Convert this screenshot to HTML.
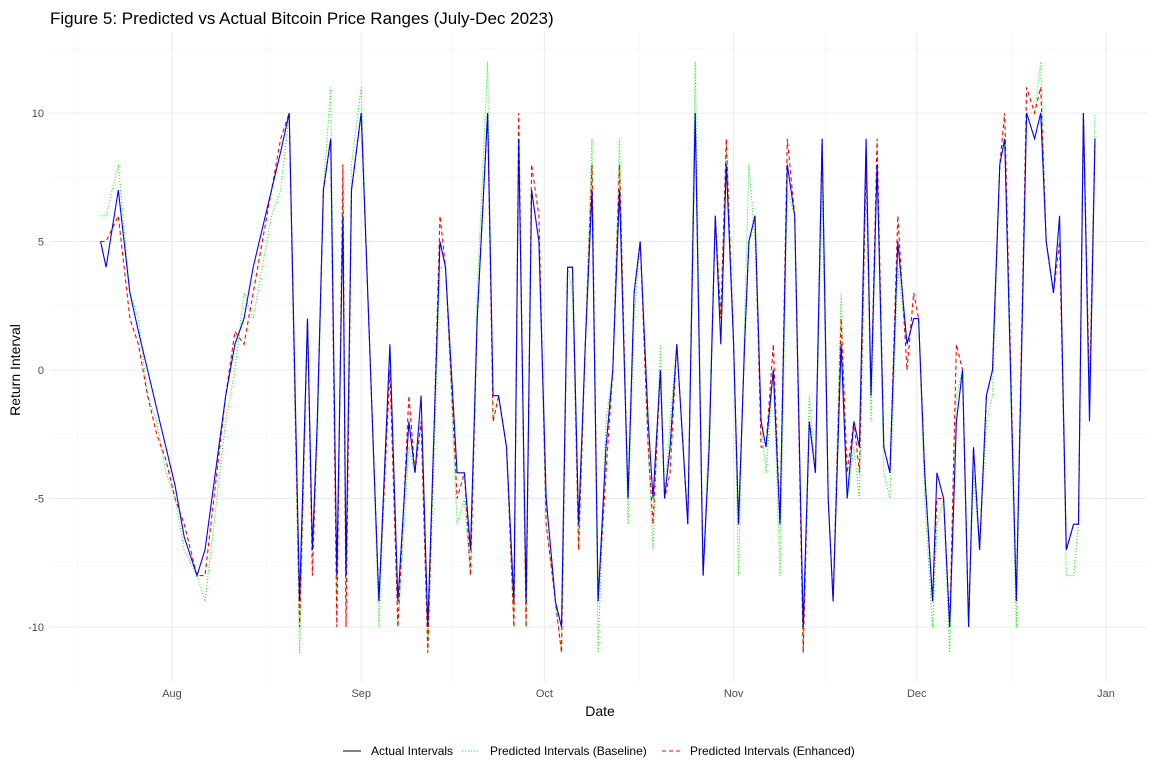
<!DOCTYPE html>
<html><head><meta charset="utf-8"><style>
body{margin:0;background:#fff;font-family:"Liberation Sans",sans-serif;}
</style></head><body>
<svg id="chart" width="1157" height="778" xmlns="http://www.w3.org/2000/svg" font-family="Liberation Sans, sans-serif">
<rect width="1157" height="778" fill="#fff"/>
<text x="50" y="24" font-size="17" fill="#000">Figure 5: Predicted vs Actual Bitcoin Price Ranges (July-Dec 2023)</text>
<g id="grid"></g>
<g id="yticks" font-size="11" fill="#4d4d4d" text-anchor="end"></g>
<g id="xticks" font-size="11" fill="#4d4d4d" text-anchor="middle"></g>
<g id="series"></g>
<text transform="translate(20,370) rotate(-90)" font-size="14" text-anchor="middle">Return Interval</text>
<text x="600" y="716" font-size="14" text-anchor="middle">Date</text>
<g font-size="12" fill="#000">
<g><line x1="343" y1="751" x2="361" y2="751" stroke="#000" stroke-width="1"/><text x="371" y="755">Actual Intervals</text></g>
<g><line x1="462" y1="751" x2="480" y2="751" stroke="#00ff00" stroke-width="1" stroke-dasharray="1,2"/><text x="490" y="755">Predicted Intervals (Baseline)</text></g>
<g><line x1="662" y1="751" x2="680" y2="751" stroke="#ff0000" stroke-width="1" stroke-dasharray="4,3"/><text x="690" y="755">Predicted Intervals (Enhanced)</text></g>
</g>
</svg>
<script>
const days=[-11.7,-10.8,-8.8,-6.9,-5.5,-4,-2.5,-1,0.5,2,4.1,5.4,8.8,10.3,11.8,13.3,14.8,16.3,17.8,19.2,20.9,22.2,23,23.8,24.8,26,27,28,28.5,29.4,31,33.9,35.7,37,38.8,39.8,40.8,41.9,43.9,44.8,46.7,47.9,48.9,50,51.7,52.6,53.5,54.8,56,56.8,58,58.9,60.1,61.3,62.8,63.8,64.8,65.6,66.6,67.7,68.8,69.8,71.1,72.2,73.3,74.7,75.7,76.7,78,78.8,80,80.7,81.6,82.7,84.5,85.7,87,88,89,89.9,90.8,92,92.8,93.8,94.5,95.5,96.5,97.3,98.5,99.6,100.8,102,103.4,104.4,105.4,106.5,107.5,108.3,109.6,110.6,111.7,112.6,113.7,114.5,115.5,116.6,117.6,118.9,120.4,121.5,122.3,123.3,124.6,125.3,126.4,127.4,128.5,129.5,130.5,131.3,132.3,133.4,134.4,135.6,136.4,138.3,140,141.3,142.3,143.2,144.4,145.4,146.5,147.7,148.5,149.3,150.3,151.2];
const actual=[5,4,7,3,1.5,0,-1.5,-3,-4.5,-6.5,-8,-7,-1,1,2,4,5.5,7,8.5,10,-9,2,-7,-2,7,9,-8,6,-8,7,10,-9,1,-9,-2,-4,-1,-10,5,4,-4,-4,-7,2,10,-1,-1,-3,-9,9,-9,7,5,-5,-9,-10,4,4,-6,1,7,-9,-3,0,7,-5,3,5,-2,-5,0,-5,-3,1,-6,10,-8,-3,6,1,8,1,-6,1,5,6,-2,-3,0,-6,8,6,-10,-2,-4,9,-5,-9,1,-5,-2,-3,9,-1,8,-3,-4,5,1,2,2,-4,-9,-4,-5,-10,-2,0,-10,-3,-7,-1,0,8,9,-9,10,9,10,5,3,6,-7,-6,-6,10,-2,9];
const baseline=[6,6,8,3,2,-1,-2,-4,-5,-7,-8,-9,-2,0,3,2,4,6,7,10,-11,2,-7,-3,7,11,-9,7,-9,8,11,-10,1,-10,-3,-4,-2,-11,4,4,-6,-5,-8,3,12,-2,-1,-3,-10,9,-10,7,5,-6,-9,-11,4,3,-7,1,9,-11,-2,0,9,-6,2,5,-3,-7,1,-5,-2,1,-6,12,-8,-2,6,2,9,1,-8,2,8,5,-2,-4,0,-8,7,6,-11,-1,-4,7,-5,-9,3,-5,-3,-5,8,-2,8,-4,-5,4,1,2,2,-5,-10,-6,-5,-11,-1,0,-10,-4,-7,-2,-1,8,9,-10,10,10,12,5,3,6,-8,-8,-6,10,-1,10];
const enhanced=[5,5,6,2,1,-1,-2.5,-3.5,-5,-6,-8,-8,-1,1.5,1,3,5,7,9,10,-10,2,-8,-2,7,9,-10,8,-10,7,10,-9,0,-10,-1,-4,-2,-11,6,4,-5,-4,-8,2,10,-2,-1,-3,-10,10,-10,8,6,-6,-9,-11,4,4,-7,1,8,-9,-4,0,8,-5,3,5,-3,-6,0,-5,-4,1,-6,10,-8,-3,6,2,9,1,-6,1,5,6,-3,-3,1,-6,9,6,-11,-2,-4,9,-5,-9,2,-4,-2,-4,8,-1,9,-3,-4,6,0,3,2,-4,-9,-5,-5,-10,1,0,-10,-3,-7,-1,0,8,10,-9,11,10,11,5,3,5,-7,-6,-6,10,-1,9];
const yTicks=[-10,-5,0,5,10];
const xTickLabels=["Aug","Sep","Oct","Nov","Dec","Jan"];
const xTickDays=[0,31,61,92,122,153];
{
const NS="http://www.w3.org/2000/svg";
function xs(d){return 172+d*(1106-172)/153;}
function ys(v){return 370-v*25.7;}
const grid=document.getElementById('grid');
function ln(p,x1,y1,x2,y2,c,w){const l=document.createElementNS(NS,'line');l.setAttribute('x1',x1);l.setAttribute('y1',y1);l.setAttribute('x2',x2);l.setAttribute('y2',y2);l.setAttribute('stroke',c);l.setAttribute('stroke-width',w);p.appendChild(l);return l;}
const pTop=32,pBot=682,pLeft=50,pRight=1147;
[-12.5,-7.5,-2.5,2.5,7.5,12.5].forEach(v=>{const y=ys(v);if(y>pTop&&y<pBot){const l=ln(grid,pLeft,y,pRight,y,'#f2f2f2',0.6);

}});
for(let i=0;i<xTickDays.length;i++){const d=i===0?xTickDays[0]-15.5:(xTickDays[i-1]+xTickDays[i])/2;const l=ln(grid,xs(d),pTop,xs(d),pBot,'#f2f2f2',0.6);

}
yTicks.forEach(v=>{const l=ln(grid,pLeft,ys(v),pRight,ys(v),'#ebebeb',1.1);


const t=document.createElementNS(NS,'text');t.setAttribute('x',44);t.setAttribute('y',ys(v)+4);t.textContent=v;


document.getElementById('yticks').appendChild(t);});
xTickDays.forEach((d,i)=>{const l=ln(grid,xs(d),pTop,xs(d),pBot,'#ebebeb',1.1);


const t=document.createElementNS(NS,'text');t.setAttribute('x',xs(d));t.setAttribute('y',697);t.textContent=xTickLabels[i];


document.getElementById('xticks').appendChild(t);});
const ser=document.getElementById('series');
function path(vals,color,dash,name){const p=document.createElementNS(NS,'path');
const n=Math.min(vals.length,days.length);let d='';
for(let i=0;i<n;i++){d+=(i?'L':'M')+xs(days[i]).toFixed(1)+','+ys(vals[i]).toFixed(1);}
p.setAttribute('d',d);
p.setAttribute('fill','none');p.setAttribute('stroke',color);p.setAttribute('stroke-width',1.1);
if(dash)p.setAttribute('stroke-dasharray',dash);


ser.appendChild(p);}
path(baseline,'#00ff00','1,2','baseline-line');
path(enhanced,'#ff0000','4,3','enhanced-line');
path(actual,'#0000ff',null,'actual-line');
}
</script>
</body></html>
